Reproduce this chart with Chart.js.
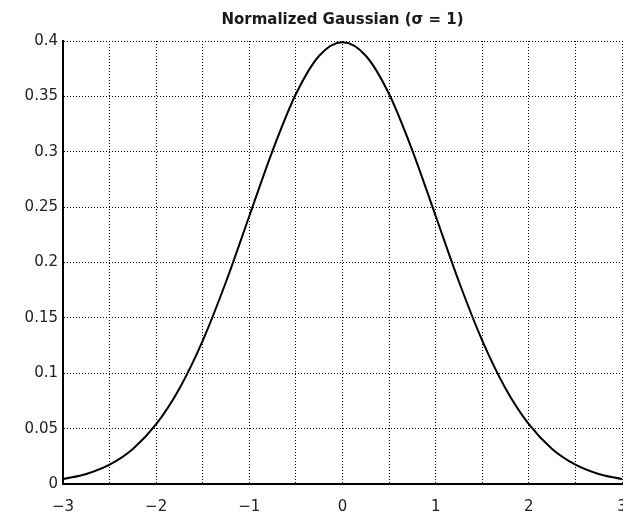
<!DOCTYPE html>
<html>
<head>
<meta charset="utf-8">
<title>Normalized Gaussian</title>
<script src="https://cdn.jsdelivr.net/npm/chart.js@4/dist/chart.umd.min.js"></script>
<style>
    html, body { margin: 0; padding: 0; background: #fff; }
    canvas { display: block; }
</style>
</head>
<body>
<canvas id="chart" width="623" height="513"></canvas>
<script>
// x positions and the curve height read at each one
var xs = [-3, -2.75, -2.5, -2.25, -2, -1.75, -1.5, -1.25, -1, -0.75, -0.5, -0.25,
          0, 0.25, 0.5, 0.75, 1, 1.25, 1.5, 1.75, 2, 2.25, 2.5, 2.75, 3];
var ys = [0.0044, 0.0091, 0.0175, 0.0317, 0.054, 0.0863, 0.1295, 0.1826, 0.242, 0.3011, 0.3521, 0.3867,
          0.3989, 0.3867, 0.3521, 0.3011, 0.242, 0.1826, 0.1295, 0.0863, 0.054, 0.0317, 0.0175, 0.0091, 0.0044];

var xTicks = [-3, -2, -1, 0, 1, 2, 3];
var yTicks = [0, 0.05, 0.1, 0.15, 0.2, 0.25, 0.3, 0.35, 0.4];

var points = xs.map(function (x, i) { return { x: x, y: ys[i] }; });

var tickFont = { family: 'DejaVu Sans', size: 15 };

var ctx = document.getElementById('chart').getContext('2d');
var chart = new Chart(ctx, {
    type: 'line',
    data: {
        datasets: [{
            data: points,
            borderColor: '#000',
            borderWidth: 2,
            pointRadius: 0,
            fill: false,
            cubicInterpolationMode: 'monotone'
        }]
    },
    options: {
        responsive: false,
        animation: false,
        layout: { padding: { left: 0, right: 1, top: 0, bottom: 0 } },
        plugins: {
            legend: { display: false },
            tooltip: { enabled: false },
            title: {
                display: true,
                fullSize: false,
                text: 'Normalized Gaussian (σ = 1)',
                color: '#1a1a1a',
                font: { family: 'DejaVu Sans', size: 15, weight: 'bold' },
                padding: { top: 11, bottom: 12 }
            }
        },
        scales: {
            x: {
                type: 'linear',
                min: -3,
                max: 3,
                afterBuildTicks: function (scale) {
                    // grid every 0.5, labels only on whole numbers
                    var t = [];
                    for (var i = 0; i <= 12; i++) t.push({ value: -3 + i * 0.5 });
                    scale.ticks = t;
                },
                ticks: {
                    autoSkip: false,
                    maxRotation: 0,
                    padding: 14,
                    color: '#222',
                    font: tickFont,
                    callback: function (v) {
                        if (xTicks.indexOf(v) < 0) return '';
                        return v < 0 ? '\u2212' + Math.abs(v) : String(v);
                    }
                },
                grid: { color: '#000', lineWidth: 1, drawTicks: false },
                border: { display: true, color: '#000', width: 2, dash: [1, 2] },
                afterFit: function (scale) {
                    scale.height = 29;
                    scale.paddingLeft = 0;
                    scale.paddingRight = 0;
                }
            },
            y: {
                min: 0,
                max: 0.4,
                afterBuildTicks: function (scale) {
                    scale.ticks = yTicks.map(function (v) { return { value: v }; });
                },
                ticks: {
                    padding: 5,
                    color: '#222',
                    font: tickFont,
                    callback: function (v) { return String(Math.round(v * 100) / 100); }
                },
                grid: { color: '#000', lineWidth: 1, drawTicks: false },
                border: { display: true, color: '#000', width: 2, dash: [1, 2] },
                afterFit: function (scale) {
                    scale.width = 63;
                    scale.paddingTop = 0;
                    scale.paddingBottom = 0;
                }
            }
        }
    }
});
</script>
</body>
</html>
